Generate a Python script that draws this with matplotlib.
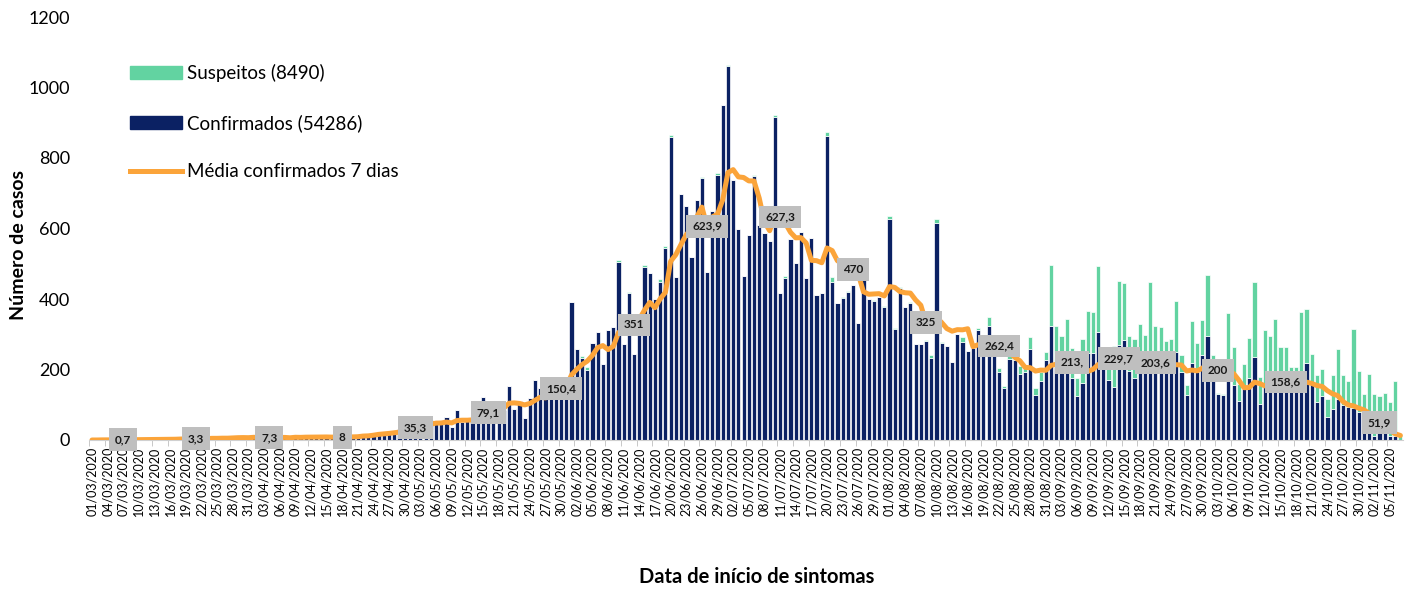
import numpy as np
import pandas as pd
import matplotlib
matplotlib.use('Agg')
import matplotlib.pyplot as plt
from matplotlib.patches import Patch
from matplotlib.lines import Line2D

plt.rcParams['font.family'] = ['Lato', 'DejaVu Sans']

# daily cases by symptom onset date, from 01/03/2020
confirmados = [
    0, 0, 1, 0, 1, 2, 1,
    0, 2, 1, 1, 3, 2, 0,
    4, 3, 2, 5, 4, 3, 2,
    6, 4, 9, 5, 7, 3, 8,
    10, 6, 7, 12, 5, 9, 2,
    9, 6, 8, 5, 15, 7, 6,
    10, 8, 9, 5, 12, 7, 5,
    10, 14, 12, 18, 16, 20, 22,
    19, 24, 26, 30, 42, 48, 55,
    38, 45, 57, 50, 45, 66, 38,
    85, 52, 57, 57, 80, 123, 90, 90, 109, 85, 153, 87, 112, 61, 119, 170,
    147, 140, 130, 160, 150, 175, 392, 257, 232, 200, 274, 305, 215, 312, 321, 505, 272, 416,
    244, 330, 492, 473, 400, 449, 544, 859, 463, 697, 664, 520, 680, 742, 477, 650, 752, 950,
    1060, 738, 598, 465, 582, 750, 610, 586, 565, 917, 418, 459, 569, 501, 590, 459, 572, 411,
    418, 862, 449, 388, 402, 421, 440, 331, 513, 399, 395, 407, 376, 626, 314, 430, 376, 388,
    271, 271, 282, 232, 615, 274, 267, 220, 301, 279, 253, 260, 312, 260, 324, 265, 194, 147,
    230, 227, 186, 194, 257, 128, 166, 227, 324, 208, 208, 239, 175, 125, 161, 246, 246, 305, 230,
    170, 151, 270, 284, 196, 177, 232, 200, 246, 200, 210, 190, 200, 249, 194, 128, 218, 194,
    241, 296, 170, 130, 128, 199, 156, 111, 144, 175, 236, 101, 151, 184, 187, 151, 142, 151,
    150, 150, 218, 161, 109, 125, 66, 87, 115, 99, 95, 90, 80, 33, 19, 10, 21, 19, 10, 11, 0,
]

suspeitos = [0] * 94 + [
    5, 6, 0, 0, 0, 0, 0, 5, 0, 5,
    0, 0, 5, 0, 0, 7, 7, 7, 0, 0, 0, 0, 0, 4, 0, 0, 5, 0,
    5, 0, 0, 0, 0, 3, 0, 0, 0, 5, 0, 6, 0, 0, 0, 0, 0, 0,
    0, 12, 14, 0, 3, 3, 0, 0, 0, 0, 3, 0, 3, 10, 4, 4, 0, 3,
    0, 0, 3, 9, 11, 4, 0, 0, 0, 12, 0, 0, 7, 0, 26, 0, 9, 7,
    10, 8, 24, 9, 34, 19, 28, 24, 172, 116, 87, 104, 85, 50, 125, 120, 116, 189, 35,
    93, 116, 182, 160, 100, 109, 96, 99, 201, 124, 110, 90, 86, 146, 47, 28, 120, 82,
    99, 172, 71, 2, 3, 162, 107, 48, 72, 115, 213, 77, 161, 112, 156, 112, 121, 57,
    58, 212, 155, 83, 75, 76, 49, 97, 142, 84, 71, 224, 117, 98, 168, 121, 105, 113, 98, 155, 14,
]

rotulos_datas = ['07/03/2020', '21/03/2020', '04/04/2020', '18/04/2020', '02/05/2020',
                 '16/05/2020', '30/05/2020', '13/06/2020', '27/06/2020', '11/07/2020',
                 '25/07/2020', '08/08/2020', '22/08/2020', '05/09/2020', '14/09/2020',
                 '21/09/2020', '03/10/2020', '16/10/2020', '03/11/2020']
rotulos_txt = ['0,7', '3,3', '7,3', '8', '35,3', '79,1', '150,4', '351', '623,9', '627,3',
               '470', '325', '262,4', '213,', '229,7', '203,6', '200', '158,6', '51,9']

legenda = ['Suspeitos (8490)', 'Confirmados (54286)', 'Média confirmados 7 dias']

azul = '#0B2163'
verde = '#62D3A1'
laranja = '#FBA43A'

N = len(confirmados)
datas = pd.date_range('2020-03-01', periods=N).strftime('%d/%m/%Y').tolist()
x = np.arange(N)
conf = np.array(confirmados)
susp = np.array(suspeitos)
media = pd.Series(conf).rolling(7, min_periods=1).mean().values

fig = plt.figure(figsize=(14.11, 5.90), dpi=100)
ax = fig.add_axes([89.4 / 1411, 150 / 590, (1403 - 89.4) / 1411, 423 / 590])

ax.bar(x, conf, width=0.8, color=azul, edgecolor='white', linewidth=0.5, zorder=2)
ax.bar(x, susp, bottom=conf, width=0.8, color=verde, edgecolor='white', linewidth=0.5, zorder=2)
ax.plot(x, media, color=laranja, lw=3.6, solid_capstyle='round', zorder=3)

for d, t in zip(rotulos_datas, rotulos_txt):
    i = datas.index(d)
    ax.text(i, media[i], t, ha='center', va='center', fontsize=8.5, fontweight='bold',
            color='#1a1a1a', zorder=4,
            bbox=dict(boxstyle='square,pad=0.5', fc='#BFBFBF', ec='none'))

ax.set_xlim(-0.5, N - 0.5)
ax.set_ylim(0, 1200)
ax.set_yticks(range(0, 1201, 200))
ax.tick_params(axis='y', length=0, pad=14, labelsize=13)

xt = x[:N - 1:3]
ax.set_xticks(xt)
ax.set_xticklabels([datas[i] for i in xt], rotation=90, fontsize=9)
ax.tick_params(axis='x', length=0, pad=5)
ax.set_xticks(xt - 0.5, minor=True)
ax.tick_params(axis='x', which='minor', length=4, color='#BFBFBF')

for s in ['top', 'right', 'left']:
    ax.spines[s].set_visible(False)
ax.spines['bottom'].set_color('#D0D0D0')

handles = [Patch(color=verde), Patch(color=azul), Line2D([], [], color=laranja, lw=3.6)]
ax.legend(handles, legenda, loc='upper left', bbox_to_anchor=(0.031, 0.888), frameon=False,
          fontsize=13.5, handlelength=2.75, handleheight=0.7, labelspacing=1.68,
          handletextpad=0.3, borderaxespad=0, borderpad=0)

fig.text(0.013, 0.585, 'Número de casos', rotation=90, ha='center', va='center',
         fontsize=14, fontweight='bold')
fig.text(0.536, 0.022, 'Data de início de sintomas', ha='center', va='center',
         fontsize=14.5, fontweight='bold')

fig.savefig('out.png', dpi=100)
